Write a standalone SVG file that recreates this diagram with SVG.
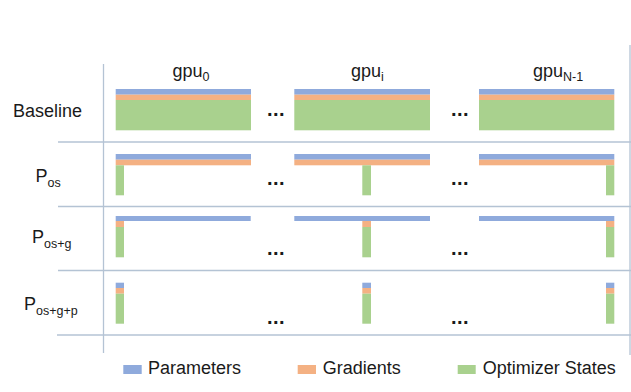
<svg xmlns="http://www.w3.org/2000/svg" width="631" height="392" viewBox="0 0 631 392">
<style>
.t{font-family:"Liberation Sans",Arial,sans-serif;fill:#1a1a1a}
.lbl{font-size:18px}
.sub{font-size:12.5px}
.dots{font-family:"Liberation Sans",Arial,sans-serif;font-size:20px;font-weight:bold;fill:#1a1a1a;letter-spacing:0.5px}
.p{fill:#8faadc}.g{fill:#f4b183}.o{fill:#a9d18e}
.ln{stroke:#b4c3d4;stroke-width:1.3;fill:none}
</style>
<rect width="631" height="392" fill="#ffffff"/>
<g id="grid">
<line class="ln" x1="103.5" y1="64" x2="103.5" y2="353"/>
<line class="ln" x1="630" y1="45" x2="630" y2="355"/>
<line class="ln" x1="58" y1="142" x2="631" y2="142"/>
<line class="ln" x1="58" y1="206.5" x2="631" y2="206.5"/>
<line class="ln" x1="58" y1="270.5" x2="631" y2="270.5"/>
<line class="ln" x1="57" y1="335" x2="631" y2="335"/>
</g>
<g id="headers">
<text class="t lbl" x="172.5" y="77">gpu<tspan class="sub" dy="4">0</tspan></text>
<text class="t lbl" x="351" y="77">gpu<tspan class="sub" dy="4">i</tspan></text>
<text class="t lbl" x="533" y="77">gpu<tspan class="sub" dy="4">N-1</tspan></text>
</g>
<g id="row-labels">
<text class="t lbl" x="13" y="117">Baseline</text>
<text class="t lbl" x="35.5" y="182">P<tspan class="sub" dy="4.5">os</tspan></text>
<text class="t lbl" x="32" y="243">P<tspan class="sub" dy="4.5">os+g</tspan></text>
<text class="t lbl" x="24" y="310">P<tspan class="sub" dy="4.5">os+g+p</tspan></text>
</g>
<g id="baseline">
<rect class="p" x="115.7" y="89" width="135.3" height="5.7"/>
<rect class="g" x="115.7" y="94.7" width="135.3" height="5.3"/>
<rect class="o" x="115.7" y="100" width="135.3" height="30.3"/>
<rect class="p" x="294.3" y="89" width="135.7" height="5.7"/>
<rect class="g" x="294.3" y="94.7" width="135.7" height="5.3"/>
<rect class="o" x="294.3" y="100" width="135.7" height="30.3"/>
<rect class="p" x="479" y="89" width="135.3" height="5.7"/>
<rect class="g" x="479" y="94.7" width="135.3" height="5.3"/>
<rect class="o" x="479" y="100" width="135.3" height="30.3"/>
</g>
<g id="pos">
<rect class="p" x="115.7" y="154" width="135.3" height="5.7"/>
<rect class="g" x="115.7" y="159.7" width="135.3" height="5.6"/>
<rect class="o" x="115.7" y="165.3" width="8.3" height="30"/>
<rect class="p" x="294.3" y="154" width="135.7" height="5.7"/>
<rect class="g" x="294.3" y="159.7" width="135.7" height="5.6"/>
<rect class="o" x="362.3" y="165.3" width="8.7" height="30"/>
<rect class="p" x="479" y="154" width="135.3" height="5.7"/>
<rect class="g" x="479" y="159.7" width="135.3" height="5.6"/>
<rect class="o" x="606" y="165.3" width="8.3" height="30"/>
</g>
<g id="posg">
<rect class="p" x="115.7" y="216" width="135" height="5"/>
<rect class="g" x="115.7" y="221" width="8.3" height="6"/>
<rect class="o" x="115.7" y="227" width="8.3" height="30.3"/>
<rect class="p" x="294.3" y="216" width="135.7" height="5"/>
<rect class="g" x="362.3" y="221" width="8.7" height="6"/>
<rect class="o" x="362.3" y="227" width="8.7" height="30.3"/>
<rect class="p" x="479" y="216" width="135.3" height="5"/>
<rect class="g" x="606" y="221" width="8.3" height="6"/>
<rect class="o" x="606" y="227" width="8.3" height="30.3"/>
</g>
<g id="posgp">
<rect class="p" x="115.7" y="282.7" width="8.3" height="5.3"/>
<rect class="g" x="115.7" y="288" width="8.3" height="5.7"/>
<rect class="o" x="115.7" y="293.7" width="8.3" height="30"/>
<rect class="p" x="362.3" y="282.7" width="8.7" height="5.3"/>
<rect class="g" x="362.3" y="288" width="8.7" height="5.7"/>
<rect class="o" x="362.3" y="293.7" width="8.7" height="30"/>
<rect class="p" x="606" y="282.7" width="8.3" height="5.3"/>
<rect class="g" x="606" y="288" width="8.3" height="5.7"/>
<rect class="o" x="606" y="293.7" width="8.3" height="30"/>
</g>
<g id="ellipses">
<text class="dots" x="276" y="116" text-anchor="middle">...</text>
<text class="dots" x="460" y="116" text-anchor="middle">...</text>
<text class="dots" x="276" y="185" text-anchor="middle">...</text>
<text class="dots" x="460" y="185" text-anchor="middle">...</text>
<text class="dots" x="276" y="255" text-anchor="middle">...</text>
<text class="dots" x="460" y="255" text-anchor="middle">...</text>
<text class="dots" x="276" y="324" text-anchor="middle">...</text>
<text class="dots" x="460" y="324" text-anchor="middle">...</text>
</g>
<g id="legend">
<rect class="p" x="123.3" y="365" width="18.4" height="9"/>
<text class="t lbl" x="148" y="374">Parameters</text>
<rect class="g" x="297.7" y="365" width="18.3" height="9"/>
<text class="t lbl" x="322.7" y="374">Gradients</text>
<rect class="o" x="457.7" y="365" width="18" height="9"/>
<text class="t lbl" x="482.7" y="374">Optimizer States</text>
</g>
</svg>
